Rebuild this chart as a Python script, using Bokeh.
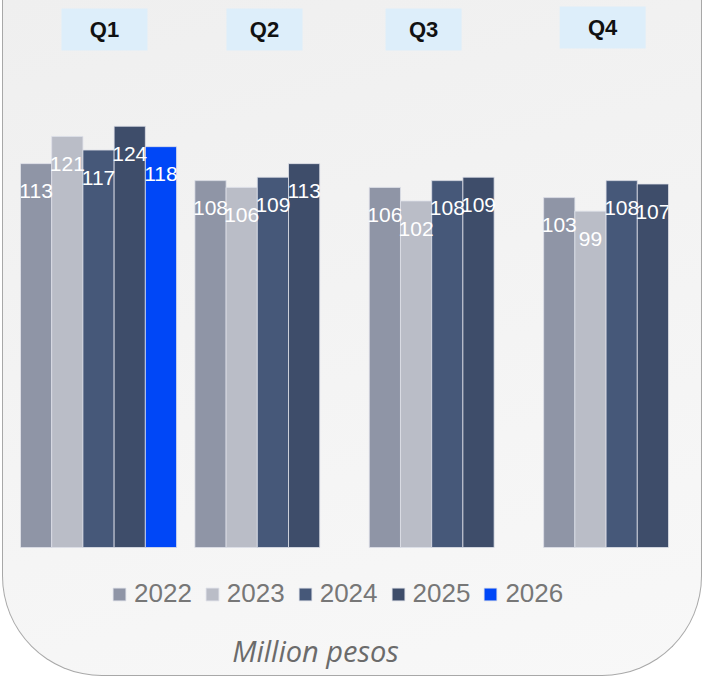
from bokeh.plotting import figure
from bokeh.models import FactorRange, Range1d, Legend, LegendItem, Label, ColumnDataSource
from bokeh.core.properties import value
from bokeh.embed import file_html
from bokeh.resources import INLINE

quarters = ["Q1", "Q2", "Q3", "Q4"]
years = ["2022", "2023", "2024", "2025", "2026"]
v2022 = [113, 108, 106, 103]
v2023 = [121, 106, 102, 99]
v2024 = [117, 109, 108, 108]
v2025 = [124, 113, 109, 107]
v2026 = [118, None, None, None]
series = [v2022, v2023, v2024, v2025, v2026]
colors = ["#8F95A6", "#BABDC7", "#465879", "#3E4D6A", "#0047F7"]

# style: header box widths (px) and small horizontal nudges (category units)
header_w = [86, 76, 76, 86]
header_nudge = [0.19, -0.27, -0.76, -0.61]

# all quarter/year slots; the last one (Q4 2026) is empty and dropped so the frame ends at the last bar
x_factors = [(q, y) for q in quarters for y in years][:-1]

p = figure(width=700, height=676,
           x_range=FactorRange(*x_factors, factor_padding=0, group_padding=0.587, range_padding=0),
           y_range=Range1d(-37.97, 161.02),
           output_backend="svg", toolbar_location=None,
           x_axis_location=None, y_axis_location=None,
           min_border_left=17, min_border_right=35, min_border_top=0, min_border_bottom=0,
           background_fill_color=None, border_fill_color=None, outline_line_color=None,
           styles={"background": "linear-gradient(165deg, #EFEFEF 0%, #F4F4F4 55%, #F8F8F8 100%)",
                   "margin-left": "2px",
                   "border-left": "1px solid #A8A8A8", "border-right": "1px solid #A8A8A8",
                   "border-bottom": "1px solid #A8A8A8",
                   "border-radius": "0 0 100px 100px"})
p.grid.visible = False

renderers = []
lx, ly, lt = [], [], []
for yr, vals, col in zip(years, series, colors):
    xs = [(q, yr) for q, v in zip(quarters, vals) if v is not None]
    tops = [v for v in vals if v is not None]
    src = ColumnDataSource(dict(x=xs, top=tops))
    r = p.vbar(x="x", top="top", bottom=0, width=1.0, source=src,
               fill_color=col, line_color="#DDE0E8", line_width=0.8)
    renderers.append(r)
    lx += xs
    ly += tops
    lt += [str(v) for v in tops]

p.text(x=lx, y=ly, text=lt, y_offset=27.5, text_align="center", text_baseline="middle",
       text_color="white", text_font=value("Liberation Sans"), text_font_size="21px")

# quarter headers
hx = [(q, "2024", n) for q, n in zip(quarters, header_nudge)]
hy = [152.5, 152.5, 152.5, 153.1]
p.rect(x=hx, y=hy, width=header_w, height=42, width_units="screen", height_units="screen",
       fill_color="#DDEEFA", line_color=None)
p.text(x=hx, y=hy, text=quarters, text_align="center", text_baseline="middle",
       text_color="#111111", text_font=value("Liberation Sans"), text_font_size="22px",
       text_font_style="bold")

legend = Legend(items=[LegendItem(label=y, renderers=[r]) for y, r in zip(years, renderers)],
                orientation="horizontal", location=(91, 67),
                glyph_width=16, glyph_height=16, label_standoff=7, spacing=12,
                padding=0, margin=0, border_line_color=None, background_fill_alpha=0,
                label_text_font="Liberation Sans", label_text_font_size="26px",
                label_text_color="#777777")
p.add_layout(legend)

p.add_layout(Label(x=295, y=26, x_units="screen", y_units="screen", text="Million pesos",
                   text_align="center", text_baseline="middle",
                   text_font="Open Sans", text_font_style="italic", text_font_size="29px",
                   text_color="#6B6B6B"))

open("out.html", "w").write(file_html(p, INLINE))
